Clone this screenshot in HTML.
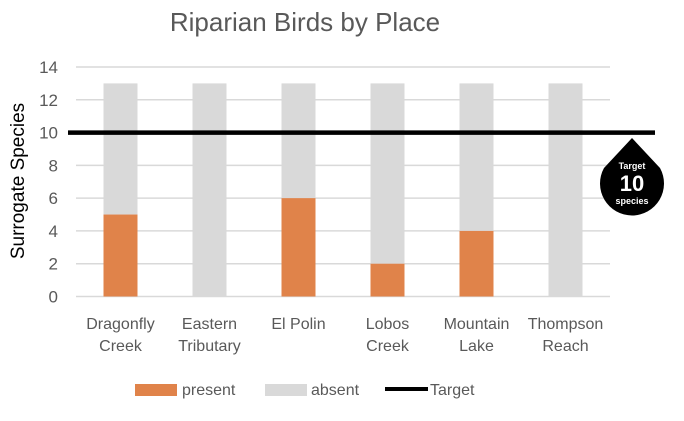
<!DOCTYPE html>
<html><head><meta charset="utf-8"><style>
body{margin:0;background:#fff;}
svg{font-family:"Liberation Sans",Calibri,sans-serif;}
</style></head><body>
<svg width="684" height="416" viewBox="0 0 684 416" xmlns="http://www.w3.org/2000/svg">
<text x="305" y="31" font-size="26" fill="#595959" text-anchor="middle">Riparian Birds by Place</text>
<text transform="translate(24,181) rotate(-90)" font-size="19" fill="#000" text-anchor="middle">Surrogate Species</text>
<g id="grid"></g><g id="bars"></g><g id="xl"></g>
<g id="target"></g>
<g>
<path d="M632,138 L660,168 A32,32 0 1 1 604,168 Z" fill="#000"/>
<text x="632" y="169" font-size="9" font-weight="bold" fill="#fff" text-anchor="middle">Target</text>
<text x="632" y="191" font-size="22" font-weight="bold" fill="#fff" text-anchor="middle">10</text>
<text x="632" y="204" font-size="9" font-weight="bold" fill="#fff" text-anchor="middle">species</text>
</g>
<g>
<rect x="135" y="384" width="42" height="12" fill="#E0834A"/>
<text x="182" y="395" font-size="16" fill="#595959">present</text>
<rect x="265" y="384" width="42" height="12" fill="#D9D9D9"/>
<text x="311" y="395" font-size="16" fill="#595959">absent</text>
<line x1="385" y1="389" x2="428" y2="389" stroke="#000" stroke-width="4"/>
<text x="430" y="395" font-size="16" fill="#595959">Target</text>
</g>
</svg>
<script>
const categories=[["Dragonfly","Creek"],["Eastern","Tributary"],["El Polin",""],["Lobos","Creek"],["Mountain","Lake"],["Thompson","Reach"]];
const present=[5,0,6,2,4,0];
const total=[13,13,13,13,13,13];
const yTicks=[0,2,4,6,8,10,12,14];
const targetValue=10;
const NS="http://www.w3.org/2000/svg";
const y=v=>296.5-v*(229.5/14);
const x=i=>76+89*(i+0.5);
function mk(t,a,p){const e=document.createElementNS(NS,t);for(const k in a)e.setAttribute(k,a[k]);p.appendChild(e);return e;}
const g=document.getElementById('grid');
yTicks.forEach(v=>{
 const l=mk('line',{x1:76,x2:610,y1:y(v),y2:y(v),stroke:'#D9D9D9','stroke-width':1.5},g);
 
 
 const t=mk('text',{x:58,y:y(v)+6,'font-size':17,fill:'#595959','text-anchor':'end'},g);
 t.textContent=v;
 
 
});
const b=document.getElementById('bars');
categories.forEach((c,i)=>{
 const cx=x(i);
 const a=mk('rect',{x:cx-17,width:34,y:y(total[i]),height:y(present[i])-y(total[i]),fill:'#D9D9D9'},b);
 
 
 const p=mk('rect',{x:cx-17,width:34,y:y(present[i]),height:y(0)-y(present[i]),fill:'#E0834A'},b);
 
 
 const t=mk('text',{x:cx,'font-size':16,fill:'#595959','text-anchor':'middle'},document.getElementById('xl'));
 
 
 c.forEach((s,j)=>{const ts=mk('tspan',{x:cx,y:329+j*22},t);ts.textContent=s;});
});
const tl=mk('line',{x1:68,x2:655,y1:y(targetValue),y2:y(targetValue),stroke:'#000','stroke-width':4.5},document.getElementById('target'));


</script>
</body></html>
